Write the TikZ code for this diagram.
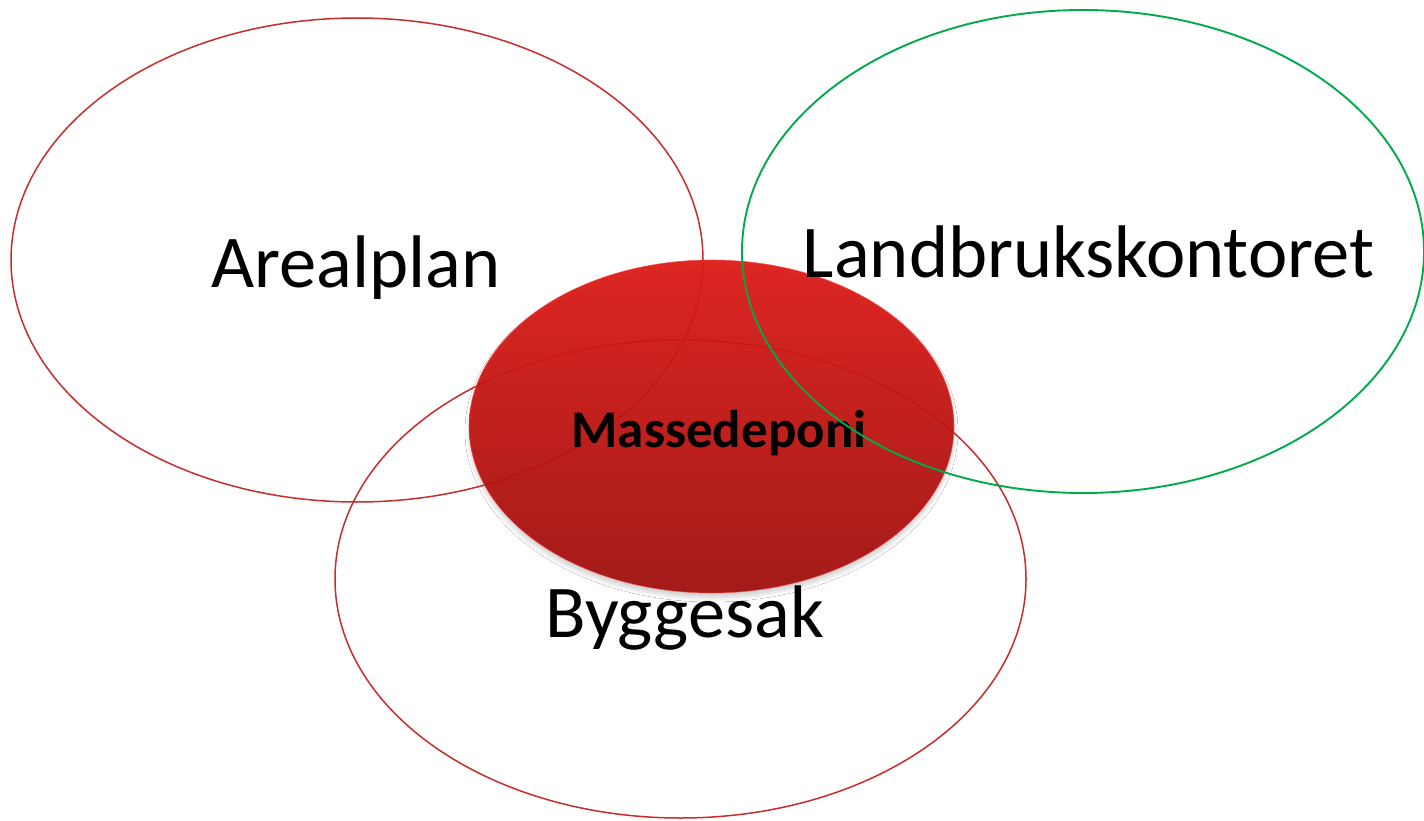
\documentclass[tikz,border=0pt]{standalone}
\usepackage{fontspec}
\setmainfont{Carlito}
\usetikzlibrary{shapes.geometric,shadows.blur}
\definecolor{ringred}{RGB}{200,45,45}
\definecolor{ringgreen}{RGB}{0,170,75}
\definecolor{topred}{RGB}{222,26,22}
\definecolor{botred}{RGB}{160,16,14}
\tikzset{
  ring/.style={ellipse, draw=ringred, line width=1.5pt, inner sep=0pt},
  greenring/.style={ellipse, draw=ringgreen, line width=1.9pt, inner sep=0pt},
  bigtext/.style={font=\fontsize{74.5}{78}\selectfont, inner sep=0pt, anchor=base},
}
\begin{document}
\begin{tikzpicture}[x=1pt,y=-1pt]
\useasboundingbox[fill=white] (0,0) rectangle (1424,821);
% red outlines
\node[ring, minimum width=692pt, minimum height=484pt] (areal) at (357,260) {};
\node[ring, minimum width=691pt, minimum height=478pt] (bygg) at (680.5,579) {};
% red filled ellipse
\node[ellipse, minimum width=485pt, minimum height=333pt, inner sep=0pt,
      top color=topred, bottom color=botred, fill opacity=0.94,
      draw=red!70!white, draw opacity=0.8, line width=0.6pt,
      blur shadow={shadow xshift=0pt, shadow yshift=-5pt, shadow blur radius=4pt, shadow opacity=18}]
      (depot) at (711.5,426.5) {};
% texts
\node[bigtext] (t1) at (356,287) {Arealplan};
\node[bigtext] (t2) at (1088.5,277) {Landbrukskontoret};
\node[bigtext] (t3) at (684.5,637) {Byggesak};
\node[font=\bfseries\fontsize{53}{56}\selectfont, inner sep=0pt, anchor=base] (t4) at (719,447) {Massedeponi};
% green outline on top
\node[greenring, minimum width=682pt, minimum height=483pt] (landbruk) at (1083,251.5) {};
\end{tikzpicture}
\end{document}
